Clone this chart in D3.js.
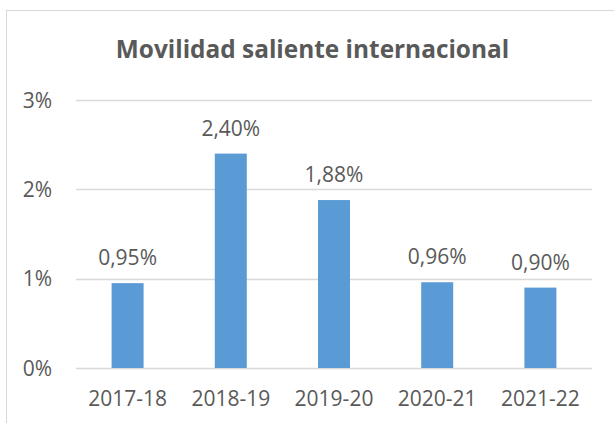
<!DOCTYPE html>
<meta charset="utf-8">
<style>
  body { margin: 0; background: #fff; }
  text { font-family: "Open Sans", sans-serif; fill: #595959; }
</style>
<svg id="chart" width="614" height="423"></svg>
<script src="https://cdn.jsdelivr.net/npm/d3@7/dist/d3.min.js"></script>
<script>

var cursos = ["2017-18", "2018-19", "2019-20", "2020-21", "2021-22"];
var valores = [0.95, 2.40, 1.88, 0.96, 0.90];
var ticks = [0, 1, 2, 3];
var titulo = "Movilidad saliente internacional";

var svg = d3.select("#chart");

// marco del gráfico (cortado a la derecha y abajo)
svg.append("rect")
	.attr("x", 6.5).attr("y", 10.5)
	.attr("width", 700).attr("height", 500)
	.attr("fill", "none")
	.attr("stroke", "#d9d9d9");

var x = d3.scaleBand()
	.domain(cursos)
	.range([76, 592])
	.paddingInner(0.69)
	.paddingOuter(0.345);

var y = d3.scaleLinear()
	.domain([0, 3])
	.range([368, 100]);

var fmt = function(v){ return d3.format(".2f")(v).replace(".", ",") + "%"; };

// líneas de cuadrícula
svg.append("g").selectAll("line")
	.data(ticks)
	.enter().append("line")
	.attr("x1", 76).attr("x2", 592)
	.attr("y1", function(d){ return Math.round(y(d)) + 0.5; })
	.attr("y2", function(d){ return Math.round(y(d)) + 0.5; })
	.attr("stroke", "#d9d9d9")
	.attr("stroke-width", 1.3);

// etiquetas del eje y
svg.append("g").selectAll("text")
	.data(ticks)
	.enter().append("text")
	.attr("x", 52)
	.attr("y", function(d){ return y(d) + 7.5; })
	.attr("text-anchor", "end")
	.style("font-size", "21px")
	.text(function(d){ return d + "%"; });

// barras
svg.append("g").selectAll("rect")
	.data(valores)
	.enter().append("rect")
	.attr("x", function(d,i){ return x(cursos[i]); })
	.attr("width", x.bandwidth())
	.attr("y", function(d){ return y(d); })
	.attr("height", function(d){ return y(0) - y(d); })
	.attr("fill", "#5b9bd5");

// etiquetas de datos
svg.append("g").selectAll("text")
	.data(valores)
	.enter().append("text")
	.attr("x", function(d,i){ return x(cursos[i]) + x.bandwidth()/2; })
	.attr("y", function(d){ return y(d) - 18; })
	.attr("text-anchor", "middle")
	.style("font-size", "21px")
	.text(fmt);

// etiquetas del eje x
svg.append("g").selectAll("text")
	.data(cursos)
	.enter().append("text")
	.attr("x", function(d){ return x(d) + x.bandwidth()/2; })
	.attr("y", 406)
	.attr("text-anchor", "middle")
	.style("font-size", "21px")
	.text(function(d){ return d; });

// título
svg.append("text")
	.attr("x", 312.5)
	.attr("y", 58)
	.attr("text-anchor", "middle")
	.style("font-size", "24.4px")
	.style("font-weight", "bold")
	.text(titulo);

</script>
</html>
